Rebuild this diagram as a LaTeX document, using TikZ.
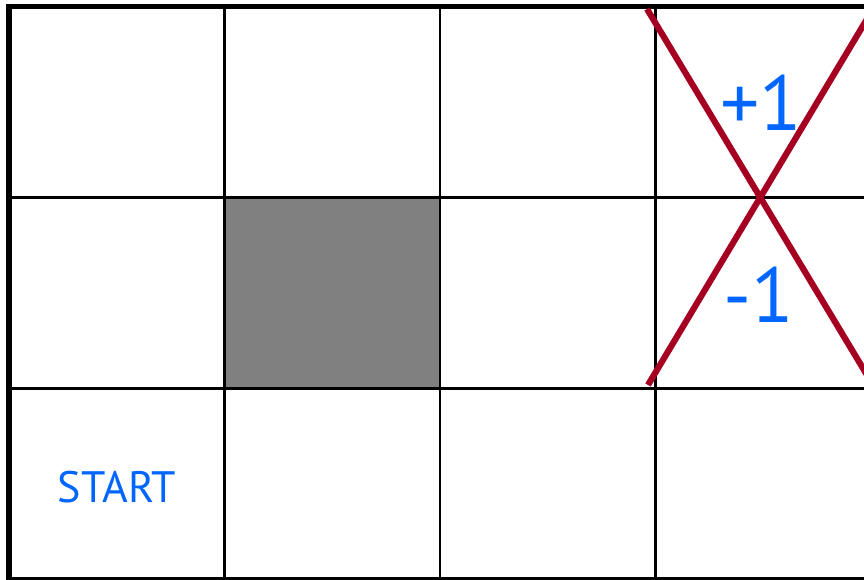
\documentclass[tikz,border=0pt]{standalone}
\usepackage{fontspec}
\setmainfont{PT Sans}
\definecolor{xred}{RGB}{165,0,33}
\definecolor{lblue}{RGB}{0,102,255}
\begin{document}
\begin{tikzpicture}[x=1pt,y=-1pt,
  gridline/.style={line width=2.7pt,black},
  border/.style={line width=5.5pt,black},
  cross/.style={line width=6.2pt,xred},
  label/.style={text=lblue,inner sep=0pt,anchor=center}]
\useasboundingbox (0,0) rectangle (864,580);
\fill[white] (0,0) rectangle (864,580);
% obstacle cell
\fill[gray!100!white,fill={rgb,255:red,128;green,128;blue,128}] (224.5,197.5) rectangle (440,388.5);
% inner grid
\foreach \x in {224.5,440,655.5} \draw[gridline] (\x,6) -- (\x,580);
\foreach \y in {197.5,388.5} \draw[gridline] (9,\y) -- (864,\y);
% outer border
\draw[line width=4pt] (9,578.5) -- (864,578.5);
\draw[border] (864,6.5) -- (9,6.5) -- (9,580);
% red cross
\coordinate (c1) at (647,9);
\coordinate (c2) at (873,385);
\coordinate (c3) at (648,385);
\coordinate (c4) at (873,9);
\draw[cross] (c1) -- (c2);
\draw[cross] (c3) -- (c4);
% labels
\node[label,font=\fontsize{78}{78}\selectfont] (plus) at (761,102.5) {+1};
\node[label,font=\fontsize{78}{78}\selectfont] (minus) at (759,294.5) {-1};
\node[label,font=\fontsize{44}{44}\selectfont] (start) at (117,487.5) {START};
\end{tikzpicture}
\end{document}
